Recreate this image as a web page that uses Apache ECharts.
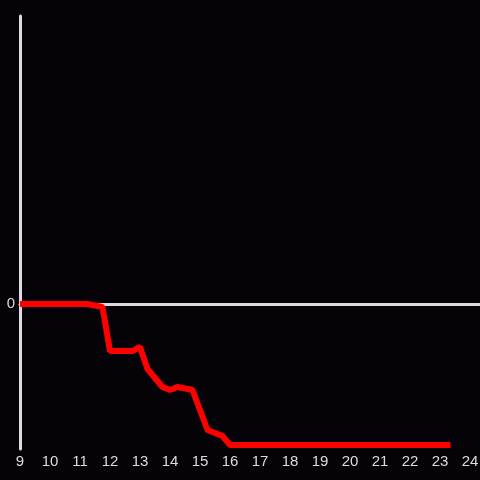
<!DOCTYPE html>
<html>
<head>
<meta charset="utf-8">
<script src="https://cdn.jsdelivr.net/npm/echarts@6/dist/echarts.min.js"></script>
<style>
html,body{margin:0;padding:0;background:#050308;overflow:hidden;}
#c{width:480px;height:480px;}
</style>
</head>
<body>
<div id="c"></div>
<script>
// hour of day
var hours = [9, 11.25, 11.75, 12.0, 12.75, 13.0, 13.25, 13.75, 14.0, 14.25, 14.75, 15.25, 15.75, 16.0, 23.35];
// cumulative value (arbitrary units, 0 = baseline)
var values = [0, 0, -3, -47, -47, -43, -65, -83, -86, -83, -86, -126, -132, -141, -141];
var xTickLabels = [9, 10, 11, 12, 13, 14, 15, 16, 17, 18, 19, 20, 21, 22, 23, 24];

var data = hours.map(function (h, i) { return [h, values[i]]; });
var axisColor = '#dcdcdc';
var font = 'Liberation Sans, Arial, sans-serif';

var chart = echarts.init(document.getElementById('c'), null, {renderer: 'canvas', width: 480, height: 480});
chart.setOption({
  backgroundColor: '#050308',
  animation: false,
  grid: {left: 20, right: 0, top: 16, bottom: 31, containLabel: false, outerBoundsMode: 'none'},
  xAxis: [{
    type: 'value', min: 9, max: 24.3333, interval: 1, position: 'top',
    axisLine: {show: true, onZero: true, lineStyle: {color: axisColor, width: 3}},
    axisTick: {show: false}, axisLabel: {show: false}, splitLine: {show: false}
  }, {
    type: 'value', min: 9, max: 24.3333, interval: 1, position: 'bottom',
    axisLine: {show: false, onZero: false}, axisTick: {show: false}, splitLine: {show: false},
    axisLabel: {
      show: true, color: axisColor, fontSize: 15, fontFamily: font, margin: 5,
      showMaxLabel: true,
      formatter: function (v) { return xTickLabels.indexOf(v) >= 0 ? String(v) : ''; }
    }
  }],
  yAxis: {
    type: 'value', min: -145, max: 288,
    axisLine: {show: true, onZero: false, lineStyle: {color: axisColor, width: 3}},
    axisTick: {show: false}, splitLine: {show: false},
    axisLabel: {
      color: axisColor, fontSize: 15, fontFamily: font, margin: 5,
      formatter: function (v) { return v === 0 ? '0' : ''; }
    }
  },
  series: [{
    type: 'line', xAxisIndex: 0, data: data, showSymbol: false, symbol: 'none',
    lineStyle: {color: '#ff0000', width: 6}, z: 5
  }]
});
</script>
</body>
</html>
